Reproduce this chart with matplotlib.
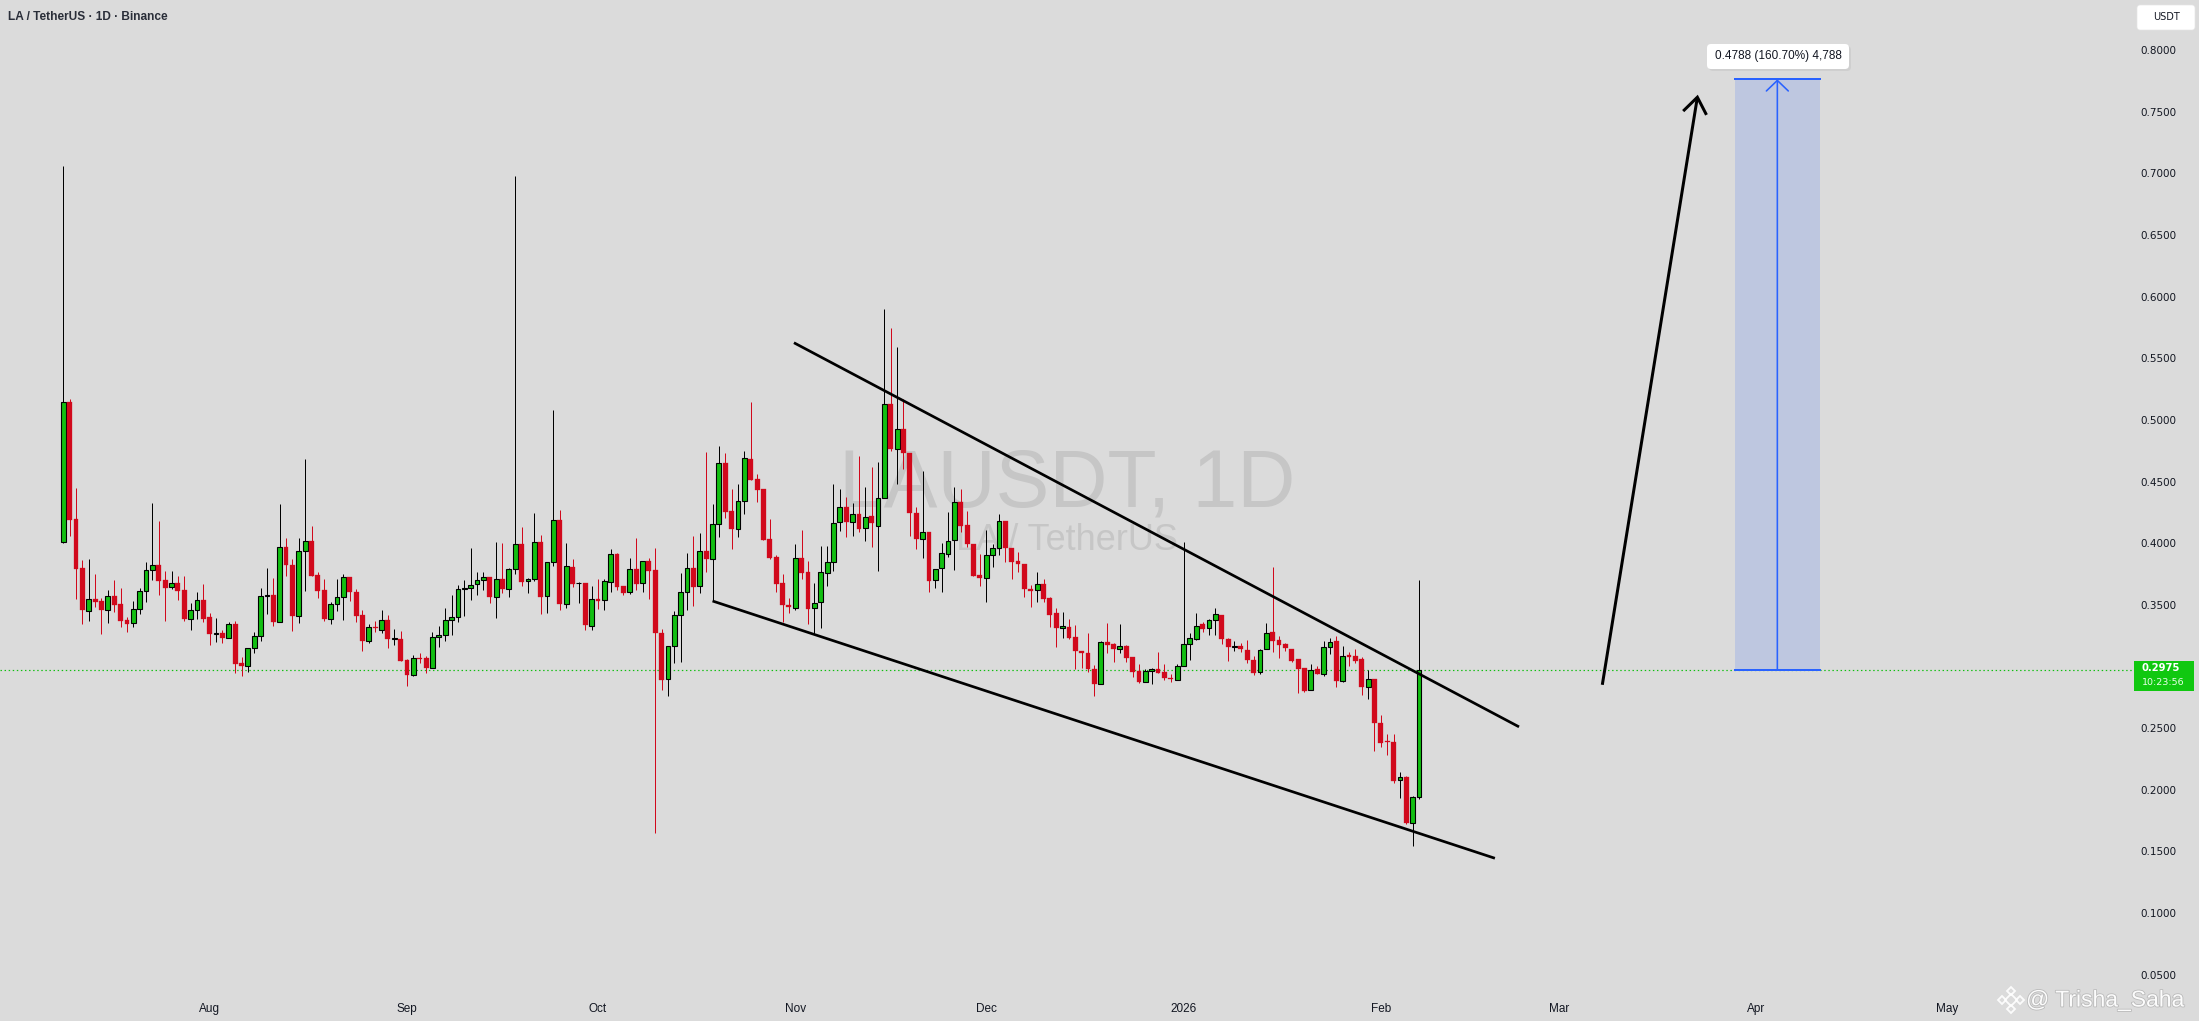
import numpy as np
import pandas as pd
import matplotlib
matplotlib.use('Agg')
import matplotlib.pyplot as plt
import matplotlib.dates as mdates
from matplotlib.patches import Rectangle, FancyBboxPatch, FancyArrowPatch
from matplotlib.lines import Line2D
import matplotlib.patheffects as pe

# ---------------- data ----------------
start_date = '2025-07-09'
opens = [0.4006, 0.5149, 0.4195, 0.3799, 0.3453, 0.3544, 0.3531, 0.3461, 0.3572, 0.3507,
         0.3377, 0.3350, 0.3463, 0.3609, 0.3780, 0.3820, 0.3699, 0.3642, 0.3674, 0.3617,
         0.3388, 0.3455, 0.3536, 0.3399, 0.3266, 0.3269, 0.3234, 0.3342, 0.3028, 0.3006,
         0.3147, 0.3244, 0.3569, 0.3580, 0.3363, 0.3973, 0.3823, 0.3412, 0.3934, 0.4015,
         0.3742, 0.3620, 0.3388, 0.3504, 0.3561, 0.3723, 0.3601, 0.3415, 0.3209, 0.3320,
         0.3299, 0.3374, 0.3220, 0.3220, 0.3052, 0.2933, 0.3066, 0.3066, 0.2990, 0.3236,
         0.3253, 0.3374, 0.3399, 0.3626, 0.3634, 0.3666, 0.3699, 0.3723, 0.3561, 0.3707,
         0.3626, 0.3787, 0.3991, 0.3690, 0.3706, 0.4012, 0.3572, 0.3845, 0.4188, 0.3504,
         0.3804, 0.3674, 0.3674, 0.3331, 0.3545, 0.3539, 0.3685, 0.3912, 0.3653, 0.3601,
         0.3791, 0.3674, 0.3856, 0.3783, 0.3274, 0.2896, 0.3166, 0.3417, 0.3601, 0.3796,
         0.3653, 0.3934, 0.3869, 0.4153, 0.4651, 0.4261, 0.4118, 0.4342, 0.4680, 0.4518,
         0.4437, 0.4031, 0.3885, 0.3674, 0.3499, 0.3477, 0.3877, 0.3766, 0.3472, 0.3520,
         0.3756, 0.3850, 0.4169, 0.4296, 0.4169, 0.4234, 0.4120, 0.4221, 0.4142, 0.4364,
         0.5126, 0.4761, 0.4924, 0.4729, 0.4248, 0.4031, 0.4093, 0.3701, 0.3796, 0.3912,
         0.4026, 0.4331, 0.4148, 0.3993, 0.3742, 0.3715, 0.3901, 0.3958, 0.4180, 0.3964,
         0.3856, 0.3831, 0.3626, 0.3620, 0.3669, 0.3553, 0.3431, 0.3309, 0.3323, 0.3236,
         0.3125, 0.3106, 0.2979, 0.2855, 0.3196, 0.3180, 0.3144, 0.3166, 0.3074, 0.2963,
         0.2877, 0.2963, 0.2977, 0.2955, 0.2909, 0.2890, 0.3004, 0.3179, 0.3223, 0.3344,
         0.3309, 0.3377, 0.3417, 0.3223, 0.3161, 0.3166, 0.3134, 0.3052, 0.2958, 0.3139,
         0.3277, 0.3215, 0.3182, 0.3139, 0.3058, 0.2985, 0.2809, 0.2977, 0.2936, 0.3161,
         0.3207, 0.2885, 0.3093, 0.3085, 0.3060, 0.2836, 0.2895, 0.2539, 0.2395, 0.2390,
         0.2079, 0.2106, 0.1733, 0.1944]
highs = [0.7061, 0.5170, 0.4447, 0.3862, 0.3872, 0.3750, 0.3555, 0.3618, 0.3701, 0.3636,
         0.3399, 0.3531, 0.3636, 0.3845, 0.4327, 0.4180, 0.3772, 0.3772, 0.3734, 0.3734,
         0.3512, 0.3604, 0.3669, 0.3431, 0.3393, 0.3296, 0.3361, 0.3369, 0.3077, 0.3150,
         0.3277, 0.3636, 0.3799, 0.3718, 0.4318, 0.4042, 0.3871, 0.4042, 0.4681, 0.4138,
         0.3763, 0.3709, 0.3520, 0.3709, 0.3750, 0.3723, 0.3626, 0.3455, 0.3342, 0.3369,
         0.3455, 0.3415, 0.3301, 0.3285, 0.3060, 0.3090, 0.3109, 0.3085, 0.3277, 0.3326,
         0.3471, 0.3580, 0.3658, 0.3699, 0.3961, 0.3766, 0.3766, 0.3723, 0.4009, 0.4000,
         0.3796, 0.6980, 0.4129, 0.3717, 0.4243, 0.4066, 0.3845, 0.5080, 0.4269, 0.3999,
         0.3872, 0.3682, 0.3674, 0.3653, 0.3707, 0.3710, 0.3953, 0.3918, 0.3653, 0.3880,
         0.4045, 0.3853, 0.3883, 0.3964, 0.3301, 0.3166, 0.3450, 0.3755, 0.3918, 0.4058,
         0.4080, 0.4737, 0.4318, 0.4788, 0.4732, 0.4440, 0.4480, 0.4748, 0.5145, 0.4561,
         0.4437, 0.4196, 0.3904, 0.3750, 0.3553, 0.3993, 0.4107, 0.3856, 0.3680, 0.3977,
         0.3977, 0.4480, 0.4437, 0.4372, 0.4329, 0.4707, 0.4459, 0.4615, 0.4659, 0.5897,
         0.5743, 0.5589, 0.5167, 0.4729, 0.4291, 0.4586, 0.4093, 0.3793, 0.3999, 0.4250,
         0.4453, 0.4437, 0.4261, 0.3993, 0.3912, 0.4107, 0.3991, 0.4234, 0.4180, 0.3964,
         0.3931, 0.3831, 0.3661, 0.3764, 0.3709, 0.3566, 0.3477, 0.3439, 0.3385, 0.3336,
         0.3125, 0.3274, 0.3012, 0.3207, 0.3355, 0.3188, 0.3342, 0.3174, 0.3074, 0.3017,
         0.2977, 0.2985, 0.3120, 0.3020, 0.2936, 0.3020, 0.4007, 0.3274, 0.3436, 0.3358,
         0.3385, 0.3471, 0.3417, 0.3233, 0.3207, 0.3193, 0.3215, 0.3085, 0.3139, 0.3350,
         0.3804, 0.3250, 0.3193, 0.3139, 0.3058, 0.2985, 0.3017, 0.3004, 0.3207, 0.3233,
         0.3247, 0.3169, 0.3120, 0.3139, 0.3074, 0.2971, 0.2895, 0.2606, 0.2449, 0.2449,
         0.2141, 0.2111, 0.1952, 0.3701]
lows = [0.4000, 0.4060, 0.3550, 0.3346, 0.3369, 0.3485, 0.3266, 0.3355, 0.3444, 0.3323,
        0.3282, 0.3323, 0.3428, 0.3520, 0.3703, 0.3582, 0.3369, 0.3628, 0.3539, 0.3371,
        0.3298, 0.3388, 0.3363, 0.3177, 0.3201, 0.3193, 0.3234, 0.2950, 0.2925, 0.2958,
        0.3112, 0.3209, 0.3426, 0.3328, 0.3363, 0.3733, 0.3288, 0.3355, 0.3616, 0.3734,
        0.3558, 0.3371, 0.3347, 0.3453, 0.3380, 0.3534, 0.3363, 0.3128, 0.3193, 0.3282,
        0.3274, 0.3152, 0.3177, 0.3045, 0.2844, 0.2925, 0.3031, 0.2950, 0.2990, 0.3160,
        0.3209, 0.3258, 0.3363, 0.3412, 0.3542, 0.3582, 0.3620, 0.3512, 0.3396, 0.3593,
        0.3566, 0.3753, 0.3655, 0.3599, 0.3690, 0.3423, 0.3431, 0.3818, 0.3461, 0.3477,
        0.3647, 0.3517, 0.3299, 0.3299, 0.3466, 0.3461, 0.3601, 0.3620, 0.3582, 0.3588,
        0.3620, 0.3607, 0.3547, 0.1652, 0.2809, 0.2760, 0.3031, 0.3039, 0.3458, 0.3493,
        0.3599, 0.3769, 0.3539, 0.4053, 0.4207, 0.3956, 0.4053, 0.4234, 0.4513, 0.4337,
        0.4026, 0.3872, 0.3607, 0.3363, 0.3431, 0.3458, 0.3707, 0.3342, 0.3261, 0.3309,
        0.3655, 0.3777, 0.4102, 0.4048, 0.4061, 0.4088, 0.4021, 0.3967, 0.3777, 0.4364,
        0.4751, 0.4477, 0.4602, 0.4061, 0.3950, 0.3877, 0.3601, 0.3634, 0.3607, 0.3885,
        0.3783, 0.4088, 0.3972, 0.3737, 0.3655, 0.3526, 0.3804, 0.3904, 0.3850, 0.3710,
        0.3769, 0.3566, 0.3480, 0.3520, 0.3526, 0.3323, 0.3161, 0.3233, 0.3223, 0.2979,
        0.2990, 0.2958, 0.2763, 0.2855, 0.3112, 0.3039, 0.3112, 0.3039, 0.2917, 0.2869,
        0.2877, 0.2855, 0.2944, 0.2890, 0.2877, 0.2890, 0.3004, 0.3052, 0.3215, 0.3282,
        0.3255, 0.3255, 0.3182, 0.3047, 0.3128, 0.3120, 0.3031, 0.2931, 0.2939, 0.3139,
        0.3120, 0.3071, 0.3125, 0.3039, 0.2782, 0.2790, 0.2809, 0.2936, 0.2925, 0.3101,
        0.2831, 0.2871, 0.3004, 0.3025, 0.2768, 0.2736, 0.2314, 0.2349, 0.2282, 0.2057,
        0.1930, 0.1719, 0.1544, 0.1922]
closes = [0.5149, 0.4189, 0.3793, 0.3454, 0.3544, 0.3526, 0.3461, 0.3569, 0.3501, 0.3372,
          0.3347, 0.3463, 0.3609, 0.3780, 0.3820, 0.3697, 0.3639, 0.3674, 0.3615, 0.3388,
          0.3455, 0.3536, 0.3388, 0.3266, 0.3269, 0.3234, 0.3342, 0.3023, 0.3006, 0.3147,
          0.3244, 0.3569, 0.3577, 0.3363, 0.3973, 0.3826, 0.3409, 0.3934, 0.4021, 0.3736,
          0.3615, 0.3388, 0.3504, 0.3561, 0.3723, 0.3601, 0.3412, 0.3209, 0.3317, 0.3315,
          0.3374, 0.3220, 0.3223, 0.3047, 0.2933, 0.3066, 0.3060, 0.2990, 0.3236, 0.3253,
          0.3374, 0.3399, 0.3626, 0.3628, 0.3658, 0.3699, 0.3723, 0.3561, 0.3707, 0.3626,
          0.3788, 0.3991, 0.3688, 0.3709, 0.4006, 0.3566, 0.3845, 0.4188, 0.3504, 0.3815,
          0.3669, 0.3676, 0.3339, 0.3545, 0.3531, 0.3691, 0.3910, 0.3647, 0.3599, 0.3788,
          0.3672, 0.3853, 0.3777, 0.3269, 0.2890, 0.3166, 0.3417, 0.3601, 0.3796, 0.3647,
          0.3939, 0.3869, 0.4153, 0.4651, 0.4256, 0.4118, 0.4342, 0.4688, 0.4513, 0.4431,
          0.4026, 0.3880, 0.3669, 0.3499, 0.3485, 0.3877, 0.3761, 0.3463, 0.3512, 0.3764,
          0.3850, 0.4166, 0.4296, 0.4175, 0.4234, 0.4112, 0.4210, 0.4161, 0.4364, 0.5126,
          0.4761, 0.4924, 0.4729, 0.4242, 0.4031, 0.4093, 0.3693, 0.3793, 0.3918, 0.4018,
          0.4331, 0.4142, 0.3991, 0.3737, 0.3715, 0.3901, 0.3958, 0.4180, 0.3958, 0.3850,
          0.3828, 0.3626, 0.3615, 0.3666, 0.3547, 0.3417, 0.3309, 0.3328, 0.3233, 0.3128,
          0.3106, 0.2979, 0.2855, 0.3196, 0.3174, 0.3144, 0.3166, 0.3066, 0.2958, 0.2877,
          0.2963, 0.2977, 0.2950, 0.2909, 0.2896, 0.3004, 0.3179, 0.3228, 0.3331, 0.3301,
          0.3377, 0.3423, 0.3220, 0.3161, 0.3163, 0.3139, 0.3052, 0.2950, 0.3133, 0.3269,
          0.3209, 0.3174, 0.3147, 0.3047, 0.2979, 0.2804, 0.2971, 0.2936, 0.3155, 0.3201,
          0.2882, 0.3087, 0.3079, 0.3047, 0.2831, 0.2895, 0.2539, 0.2382, 0.2384, 0.2074,
          0.2101, 0.1727, 0.1944, 0.2975]

last_price = 0.2975
last_price_text = '0.2975'
countdown_text = '10:23:56'
price_ticks = [0.05, 0.10, 0.15, 0.20, 0.25, 0.30, 0.35, 0.40,
               0.45, 0.50, 0.55, 0.60, 0.65, 0.70, 0.75, 0.80]
month_tick_dates = ['2025-08-01', '2025-09-01', '2025-10-01', '2025-11-01', '2025-12-01',
                    '2026-01-01', '2026-02-01', '2026-03-01', '2026-04-01', '2026-05-01']
month_tick_labels = ['Aug', 'Sep', 'Oct', 'Nov', 'Dec', '2026', 'Feb', 'Mar', 'Apr', 'May']

upper_trend_dates = ['2025-10-31 19:00', '2026-02-22 17:00']
upper_trend_prices = [0.5626, 0.2510]
lower_trend_dates = ['2025-10-19 00:00', '2026-02-18 22:00']
lower_trend_prices = [0.3531, 0.1444]
arrow_dates = ['2026-03-07 19:00', '2026-03-22 19:00']
arrow_prices = [0.2851, 0.7638]
measure_dates = ['2026-03-28 17:00', '2026-04-04 07:00', '2026-04-10 22:00']
measure_prices = [0.2975, 0.7763]
measure_text = '0.4788 (160.70%) 4,788'

title_text = 'LA / TetherUS · 1D · Binance'
watermark_big = 'LAUSDT, 1D'
watermark_small = 'LA / TetherUS'
author_text = '@ Trisha_Saha'

# ---------------- style ----------------
W, H = 2199, 1021
BG = '#dbdbdb'
GREEN = '#12bf12'
RED = '#d1091c'
BLUE = '#2962ff'
TXT = '#131722'
PX = 0.72  # one pixel in points

fig = plt.figure(figsize=(W / 100, H / 100), dpi=100)
fig.patch.set_facecolor(BG)

ax_right_px, ax_bottom_px = 2132, 992
ax = fig.add_axes([0, 1 - ax_bottom_px / H, ax_right_px / W, ax_bottom_px / H])
ax.set_facecolor(BG)
for s in ax.spines.values():
    s.set_visible(False)

dates = pd.date_range(start_date, periods=len(opens), freq='D')
x = mdates.date2num(dates)
o = np.array(opens); h = np.array(highs); l = np.array(lows); c = np.array(closes)
up = c >= o

d0 = x[0]
px_per_day = 6.365
ax.set_xlim(d0 - 63.3 / px_per_day, d0 + (ax_right_px - 63.3) / px_per_day)
ax.set_ylim(0.03591, 0.84064)

# wicks
ax.vlines(x[up], l[up], h[up], color='black', lw=1.0 * PX, zorder=3)
ax.vlines(x[~up], l[~up], h[~up], color=RED, lw=1.0 * PX, zorder=3)
# bodies
bw = 0.76
hgt = np.maximum(np.abs(c - o), 0.0007)
bot = np.minimum(o, c)
ax.bar(x[up], hgt[up], bottom=bot[up], width=bw, color=GREEN, edgecolor='black',
       linewidth=1.1 * PX, zorder=4)
ax.bar(x[~up], hgt[~up], bottom=bot[~up], width=bw, color=RED, edgecolor=RED,
       linewidth=0.3 * PX, zorder=4)

# last price dotted line
ax.axhline(last_price, color=GREEN, lw=1.2 * PX, linestyle=(0, (1.2, 2.2)), zorder=2)

# trend lines
ax.plot(mdates.date2num(pd.to_datetime(upper_trend_dates)), upper_trend_prices,
        color='black', lw=2.7 * PX, zorder=6, solid_capstyle='butt')
ax.plot(mdates.date2num(pd.to_datetime(lower_trend_dates)), lower_trend_prices,
        color='black', lw=2.7 * PX, zorder=6, solid_capstyle='butt')

# big arrow
ad = mdates.date2num(pd.to_datetime(arrow_dates))
arr = FancyArrowPatch((ad[0], arrow_prices[0]), (ad[1], arrow_prices[1]),
                      arrowstyle='->,head_length=11.5,head_width=8.5', mutation_scale=1,
                      color='black', lw=3.0 * PX, zorder=6, shrinkA=0, shrinkB=0,
                      joinstyle='miter', capstyle='butt')
ax.add_patch(arr)

# measure box
md = mdates.date2num(pd.to_datetime(measure_dates))
ax.add_patch(Rectangle((md[0], measure_prices[0]), md[2] - md[0],
                       measure_prices[1] - measure_prices[0],
                       facecolor=BLUE, alpha=0.16, edgecolor='none', zorder=5))
ax.plot([md[0], md[2]], [measure_prices[0]] * 2, color=BLUE, lw=2 * PX, zorder=6)
ax.plot([md[0], md[2]], [measure_prices[1]] * 2, color=BLUE, lw=2 * PX, zorder=6)
marr = FancyArrowPatch((md[1], measure_prices[0]), (md[1], measure_prices[1]),
                       arrowstyle='->,head_length=7.6,head_width=7.9', mutation_scale=1,
                       color=BLUE, lw=1.6 * PX, zorder=6, shrinkA=0, shrinkB=0)
ax.add_patch(marr)

# watermark
ax.text(1067 / W, 1 - 506 / H, watermark_big, transform=fig.transFigure,
        ha='center', va='baseline', fontsize=58, color='#c6c6c6',
        family='Liberation Sans', zorder=0)
ax.text(1067 / W, 1 - 550 / H, watermark_small, transform=fig.transFigure,
        ha='center', va='baseline', fontsize=26, color='#c6c6c6',
        family='Liberation Sans', zorder=0)

# axes ticks
ax.yaxis.tick_right()
ax.set_yticks(price_ticks)
ax.set_yticklabels([f'{p:.4f}' for p in price_ticks])
ax.tick_params(axis='y', length=0, pad=6, labelsize=7.5, labelcolor=TXT)
for t in ax.get_yticklabels():
    t.set_family('DejaVu Sans')

ax.set_xticks(mdates.date2num(pd.to_datetime(month_tick_dates)))
ax.set_xticklabels(month_tick_labels)
ax.tick_params(axis='x', length=0, pad=8, labelsize=8.5, labelcolor=TXT)
for t in ax.get_xticklabels():
    t.set_family('Liberation Sans')


# ---------------- figure-level decorations ----------------
def fig_rect(x0, y0, x1, y1, **kw):
    return Rectangle((x0 / W, 1 - y1 / H), (x1 - x0) / W, (y1 - y0) / H,
                     transform=fig.transFigure, **kw)


def fig_rbox(x0, y0, x1, y1, r, **kw):
    return FancyBboxPatch((x0 / W, 1 - y1 / H), (x1 - x0) / W, (y1 - y0) / H,
                          boxstyle=f'round,pad=0,rounding_size={r / W}',
                          transform=fig.transFigure, mutation_aspect=W / H, **kw)


fig.text(8 / W, 1 - 17 / H, title_text, ha='left', va='center', fontsize=8.6,
         fontweight='bold', color='#2a2e39', family='Liberation Sans')

# USDT box
fig.add_artist(fig_rbox(2137, 5, 2195, 30, 3, facecolor='white', edgecolor='#e6e6e6', lw=0.5))
fig.text(2166 / W, 1 - 17.5 / H, 'USDT', ha='center', va='center', fontsize=7,
         color=TXT, family='DejaVu Sans')

# measure label box
fig.add_artist(fig_rbox(1709, 46, 1851, 71, 4, facecolor='#c8c8c8', edgecolor='none', alpha=0.6))
fig.add_artist(fig_rbox(1707, 44, 1849, 69, 4, facecolor='white', edgecolor='none'))
fig.text(1778 / W, 1 - 56.5 / H, measure_text, ha='center', va='center', fontsize=8.5,
         color=TXT, family='Liberation Sans')

# last price label
fig.add_artist(fig_rect(2134, 661, 2194, 691, facecolor='#10c810', edgecolor='none'))
fig.text(2142 / W, 1 - 668 / H, last_price_text, ha='left', va='center', fontsize=7.2,
         fontweight='bold', color='white', family='DejaVu Sans')
fig.text(2142 / W, 1 - 682.5 / H, countdown_text, ha='left', va='center', fontsize=6.8,
         color='#eaffea', family='DejaVu Sans')

# author watermark with simple logo
lx, ly = 2011, 1000
for dx, dy, ms in [(0, 0, 6), (-9, 0, 4), (9, 0, 4), (0, -9, 4), (0, 9, 4)]:
    fig.add_artist(Line2D([(lx + dx) / W], [1 - (ly + dy) / H], marker='D', markersize=ms,
                          mfc='none', mec='white', mew=1.3, alpha=0.9,
                          transform=fig.transFigure))
fig.text(2026 / W, 1 - 1000 / H, author_text, ha='left', va='center', fontsize=16.5,
         color='white', alpha=0.95, family='Liberation Sans',
         path_effects=[pe.withStroke(linewidth=1.2, foreground='#b8b8b8')])

fig.savefig('out.png', dpi=100, facecolor=fig.get_facecolor())
